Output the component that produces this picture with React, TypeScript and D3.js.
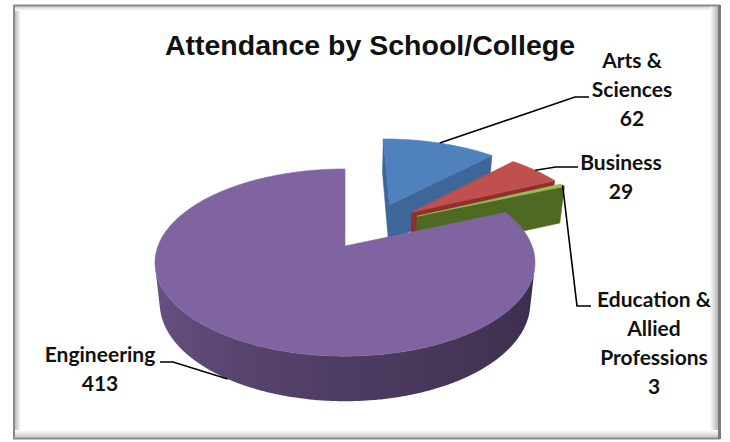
import React from "react";
import * as d3 from "d3";

// ---- data ----
const categories = ["Arts & Sciences", "Business", "Education & Allied Professions", "Engineering"];
const categoryLines = [["Arts &", "Sciences"], ["Business"], ["Education &", "Allied", "Professions"], ["Engineering"]];
const values = [62, 29, 3, 413];
const title = "Attendance by School/College";

// ---- styles / layout ----
const topColors = ["#4F81BD", "#C0504D", "#9BBB59", "#8064A2"];
const sideColors = ["#3D6699", "#8F2F2C", "#4E6A22", "#5B4679"];
const labelAnchors = [
  { x: 632, y: 68 },
  { x: 621, y: 170 },
  { x: 654, y: 307 },
  { x: 100, y: 362 },
];
const leaderElbows: [number, number][][] = [
  [[575, 97], [589, 97]],
  [[556, 167], [578, 167]],
  [[577, 306], [591, 306]],
  [[173, 362], [160, 362]],
];
const leaderAtBottom = [false, false, false, true];

const W = 730, H = 442;
const P = { cx: 345, cy: 246, k: 187, phi: (29 * Math.PI) / 180, D: 4.94, h: 0.25, explode: 0.28 };
const cosP = Math.cos(P.phi), sinP = Math.sin(P.phi);
const cam = [0, P.D * sinP, -P.D * cosP];

function project(X: number, Y: number, Z: number): [number, number] {
  const yv = Y * cosP + Z * sinP;
  const d = Z * cosP - Y * sinP;
  const f = P.D / (P.D + d);
  return [P.cx + P.k * X * f, P.cy - P.k * yv * f];
}
function visible(n: number[], p: number[]) {
  const v = [cam[0] - p[0], cam[1] - p[1], cam[2] - p[2]];
  return n[0] * v[0] + n[1] * v[1] + n[2] * v[2] > 1e-9;
}
function wallColor(base: string, alphaDeg: number) {
  const a = ((alphaDeg % 360) + 360) % 360;
  let f;
  if (a <= 90) f = 0.42;
  else if (a <= 180) f = 0.42 + ((a - 90) / 90) * (0.6 - 0.42);
  else if (a <= 270) f = 0.6 + ((a - 180) / 90) * (0.87 - 0.6);
  else f = 0.87;
  const c = d3.rgb(base);
  return d3.rgb(c.r * f, c.g * f, c.b * f).formatHex();
}

const pts = (p: [number, number][]) => "M" + p.map((q) => q[0].toFixed(2) + "," + q[1].toFixed(2)).join("L") + "Z";

export default function App() {
  const arcs = d3.pie<number>().sort(null).value((d) => d)(values);
  const e = P.explode;
  const mids = arcs.map((a) => (a.startAngle + a.endAngle) / 2);
  const engIdx = 3;
  const tc = [-e * Math.sin(mids[engIdx]), -e * Math.cos(mids[engIdx])];

  type Face = { d: string; fill: string; grad?: { id: string; x1: number; x2: number; stops: { o: number; c: string }[] } };
  const slices = arcs.map((a, i) => {
    const ox = tc[0] + e * Math.sin(mids[i]);
    const oz = tc[1] + e * Math.cos(mids[i]);
    const a0 = a.startAngle, a1 = a.endAngle;
    const n = Math.max(2, Math.ceil((a1 - a0) / (Math.PI / 360)));
    const angs = d3.range(n + 1).map((j) => a0 + ((a1 - a0) * j) / n);
    const rimTop = angs.map((t) => project(ox + Math.sin(t), 0, oz + Math.cos(t)));
    const rimBot = angs.map((t) => project(ox + Math.sin(t), -P.h, oz + Math.cos(t)));
    const cTop = project(ox, 0, oz), cBot = project(ox, -P.h, oz);
    const faces: Face[] = [];
    const center3 = [ox, 0, oz];
    if (visible([-Math.cos(a0), 0, Math.sin(a0)], center3))
      faces.push({ d: pts([cTop, rimTop[0], rimBot[0], cBot]), fill: sideColors[i] });
    if (visible([Math.cos(a1), 0, -Math.sin(a1)], center3))
      faces.push({ d: pts([cTop, rimTop[n], rimBot[n], cBot]), fill: sideColors[i] });
    // outer wall: contiguous visible runs, one path each with horizontal gradient
    const vis = d3.range(n).map((j) => {
      const am = (angs[j] + angs[j + 1]) / 2;
      return visible([Math.sin(am), 0, Math.cos(am)], [ox + Math.sin(am), -P.h / 2, oz + Math.cos(am)]);
    });
    let j = 0, run = 0;
    while (j < n) {
      if (!vis[j]) { j++; continue; }
      let k = j;
      while (k < n && vis[k]) k++;
      const top = rimTop.slice(j, k + 1);
      const bot = rimBot.slice(j, k + 1).reverse();
      const xs = top.map((p) => p[0]);
      const x1 = Math.min(...xs), x2 = Math.max(...xs);
      const stops = d3.range(j, k + 1, 6).concat([k]).map((q) => ({
        o: x2 > x1 ? (rimTop[q][0] - x1) / (x2 - x1) : 0,
        c: wallColor(topColors[i], (angs[q] * 180) / Math.PI),
      })).sort((u, v) => u.o - v.o);
      const id = `wall-${i}-${run++}`;
      faces.push({ d: pts([...top, ...bot]), fill: `url(#${id})`, grad: { id, x1, x2, stops } });
      j = k;
    }
    faces.push({ d: pts([cTop, ...rimTop]), fill: topColors[i] });
    const m = mids[i];
    const lead = project(ox + Math.sin(m), leaderAtBottom[i] ? -P.h : 0, oz + Math.cos(m));
    return { i, depth: oz * cosP, faces, lead };
  });
  const order = [...slices].sort((a, b) => b.depth - a.depth);

  const lineH = 29;
  return (
    <div style={{ position: "fixed", left: 0, top: 0 }}>
      <svg width={W} height={H} viewBox={`0 0 ${W} ${H}`} style={{ display: "block" }}>
        <defs>
          <linearGradient id="gl" x1="0" x2="1" y1="0" y2="0">
            <stop offset="0" stopColor="#bdbdbd" />
            <stop offset="1" stopColor="#ffffff" />
          </linearGradient>
          <linearGradient id="gr" x1="0" x2="1" y1="0" y2="0">
            <stop offset="0" stopColor="#ffffff" />
            <stop offset="1" stopColor="#b5b5b5" />
          </linearGradient>
          <linearGradient id="gt" x1="0" x2="0" y1="0" y2="1">
            <stop offset="0" stopColor="#d0d0d0" />
            <stop offset="1" stopColor="#ffffff" />
          </linearGradient>
          <linearGradient id="gb" x1="0" x2="0" y1="0" y2="1">
            <stop offset="0" stopColor="#ffffff" />
            <stop offset="1" stopColor="#c4c4c4" />
          </linearGradient>
          {slices.flatMap((s) =>
            s.faces.filter((f) => f.grad).map((f) => (
              <linearGradient key={f.grad!.id} id={f.grad!.id} gradientUnits="userSpaceOnUse" x1={f.grad!.x1} x2={f.grad!.x2} y1={0} y2={0}>
                {f.grad!.stops.map((st, q) => (
                  <stop key={q} offset={st.o} stopColor={st.c} />
                ))}
              </linearGradient>
            ))
          )}
        </defs>
        <rect x={0} y={0} width={W} height={H} fill="#ffffff" />
        {/* frame */}
        <rect x={15} y={6} width={6} height={432} fill="url(#gl)" />
        <rect x={15} y={6} width={703} height={5} fill="url(#gt)" />
        <rect x={710} y={6} width={8} height={432} fill="url(#gr)" />
        <rect x={15} y={430} width={703} height={8} fill="url(#gb)" />
        <rect x={14} y={5.5} width={705} height={433} fill="none" stroke="#8a8a8a" strokeWidth={2} />
        <rect x={718} y={5} width={3} height={434} fill="#7a7a7a" />

        {/* title */}
        <text x={370} y={55} textAnchor="middle" fontFamily="Liberation Sans, Arial, sans-serif" fontWeight={700} fontSize={28.5} fill="#111">
          {title}
        </text>

        {/* pie */}
        {order.map((s) => (
          <g key={categories[s.i]}>
            {s.faces.map((f, j) => (
              <path key={j} d={f.d} fill={f.fill} stroke={f.grad ? "none" : f.fill} strokeWidth={0.6} strokeLinejoin="round" />
            ))}
          </g>
        ))}

        {/* leaders */}
        {slices.map((s) => (
          <polyline
            key={"l" + s.i}
            points={[s.lead, ...leaderElbows[s.i]].map((p) => p.join(",")).join(" ")}
            fill="none"
            stroke="#000"
            strokeWidth={1.6}
          />
        ))}

        {/* labels */}
        {slices.map((s) => {
          const lines = [...categoryLines[s.i], String(values[s.i])];
          const an = labelAnchors[s.i];
          return (
            <text key={"t" + s.i} textAnchor="middle" fontFamily="Lato, sans-serif" fontWeight={700} fontSize={21} fill="#111">
              {lines.map((ln, k) => (
                <tspan key={k} x={an.x} y={an.y + k * lineH}>
                  {ln}
                </tspan>
              ))}
            </text>
          );
        })}
      </svg>
    </div>
  );
}
